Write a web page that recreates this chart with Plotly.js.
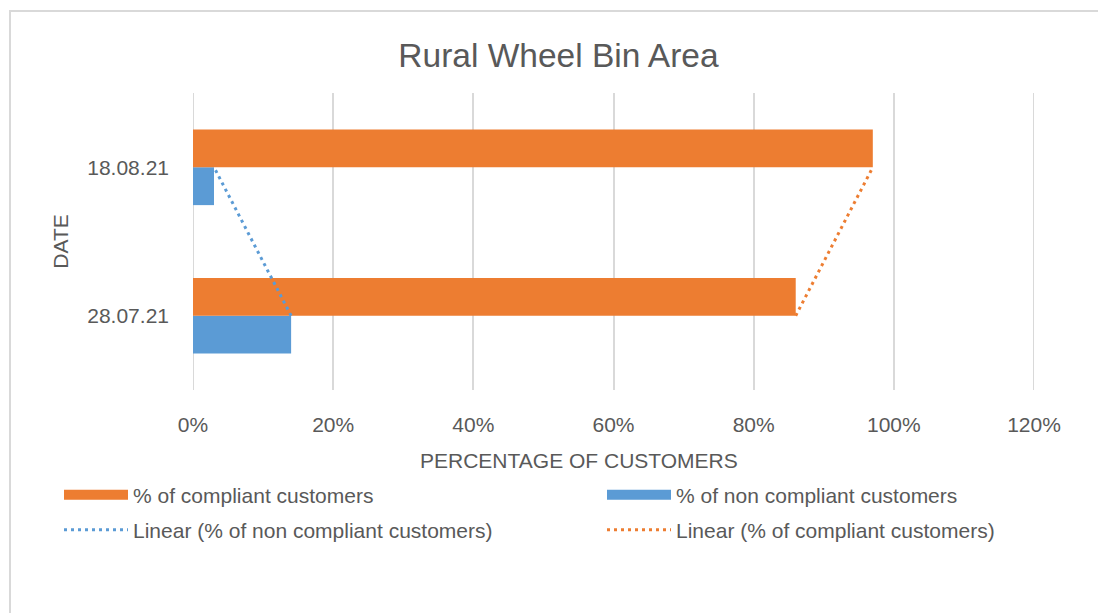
<!DOCTYPE html>
<html>
<head>
<meta charset="utf-8">
<script src="https://cdn.plot.ly/plotly-3.0.1.min.js"></script>
<style>
  html, body { margin: 0; padding: 0; background: #ffffff; overflow: hidden; }
  #frame { position: absolute; left: 9px; top: 10px; width: 1200px; height: 700px; border: 2px solid #d9d9d9; box-sizing: border-box; }
  #chart { position: absolute; left: 0; top: 0; width: 1098px; height: 613px; }
</style>
</head>
<body>
<div id="frame"></div>
<div id="chart"></div>
<script>
const dates = ['28.07.21', '18.08.21'];
const compliant = [86, 97];
const nonCompliant = [14, 3];
const xTicks = [0, 20, 40, 60, 80, 100, 120];

const gray = '#595959';
const orange = '#ED7D31';
const blue = '#5B9BD5';
const fontFam = 'Liberation Sans, Arial, sans-serif';
const fs = 21;
const dotDash = '3px,4px';

const traces = [
  {
    type: 'bar', orientation: 'h', name: '% of non compliant customers',
    y: dates, x: nonCompliant, marker: { color: blue },
    legendgroup: 'non', showlegend: false, hoverinfo: 'x+y'
  },
  {
    type: 'bar', orientation: 'h', name: '% of compliant customers',
    y: dates, x: compliant, marker: { color: orange },
    legendgroup: 'comp', showlegend: false, hoverinfo: 'x+y'
  },
  {
    type: 'scatter', mode: 'lines', name: 'Linear (% of non compliant customers)',
    y: dates, x: nonCompliant, line: { color: blue, dash: dotDash, width: 3 }, legend: 'legend3'
  },
  {
    type: 'scatter', mode: 'lines', name: 'Linear (% of compliant customers)',
    y: dates, x: compliant, line: { color: orange, dash: dotDash, width: 3 }, legend: 'legend4'
  },
  // legend keys for the bar series (wide swatches as in the original)
  {
    type: 'scatter', mode: 'lines', name: '% of compliant customers', legendgroup: 'comp',
    x: [null], y: [null], line: { color: orange, width: 12 }, legend: 'legend', hoverinfo: 'skip'
  },
  {
    type: 'scatter', mode: 'lines', name: '% of non compliant customers', legendgroup: 'non',
    x: [null], y: [null], line: { color: blue, width: 12 }, legend: 'legend2', hoverinfo: 'skip'
  }
];

const plotL = 193, plotW = 841, plotB = 390.5, plotH = 298;
const px2x = p => (p - plotL) / plotW;
const px2y = p => (plotB - p) / plotH;

function leg(xpx, ypx) {
  return {
    orientation: 'v', x: px2x(xpx), xanchor: 'left', y: px2y(ypx), yanchor: 'middle',
    itemwidth: 64, font: { size: fs, color: gray }, bgcolor: 'rgba(0,0,0,0)', borderwidth: 0
  };
}

const layout = {
  width: 1098, height: 613,
  paper_bgcolor: 'rgba(0,0,0,0)', plot_bgcolor: 'rgba(0,0,0,0)',
  margin: { l: 193, r: 64, t: 92.5, b: 222.5, autoexpand: false },
  font: { family: fontFam, color: gray, size: fs },
  title: { text: 'Rural Wheel Bin Area', font: { size: 33.5, color: gray, family: fontFam }, x: 558.5 / 1098, xanchor: 'center', y: 0.91, yanchor: 'middle', yref: 'container', xref: 'container' },
  barmode: 'group', bargap: 0.49, bargroupgap: 0,
  xaxis: {
    range: [0, 120], tickvals: xTicks, ticktext: xTicks.map(v => v + '%'),
    showgrid: true, gridcolor: '#d9d9d9', gridwidth: 2, zeroline: false,
    showline: false, ticks: '', ticklabelstandoff: 20,
    tickfont: { size: fs, color: gray }
  },
  yaxis: {
    type: 'category', categoryorder: 'array', categoryarray: dates,
    range: [-0.5, 1.5], showgrid: false, zeroline: false, showline: false, ticks: '',
    ticklabelstandoff: 23,
    tickfont: { size: fs, color: gray },
    title: { text: 'DATE', font: { size: fs, color: gray }, standoff: 12 }
  },
  shapes: [0, 120].map(v => ({
    type: 'line', xref: 'x', yref: 'paper', x0: v, x1: v, y0: 0, y1: 1,
    line: { color: '#d9d9d9', width: 2 }, layer: 'below'
  })),
  annotations: [
    { text: 'PERCENTAGE OF CUSTOMERS', xref: 'paper', yref: 'paper', x: px2x(579), y: px2y(461),
      xanchor: 'center', yanchor: 'middle', showarrow: false, font: { size: fs, color: gray } }
  ],
  legend: leg(59, 496),
  legend2: leg(602, 496),
  legend3: leg(59, 531),
  legend4: leg(602, 531),
  showlegend: true,
  hovermode: 'closest'
};

Plotly.newPlot('chart', traces, layout, { displayModeBar: false, responsive: false });
</script>
</body>
</html>
